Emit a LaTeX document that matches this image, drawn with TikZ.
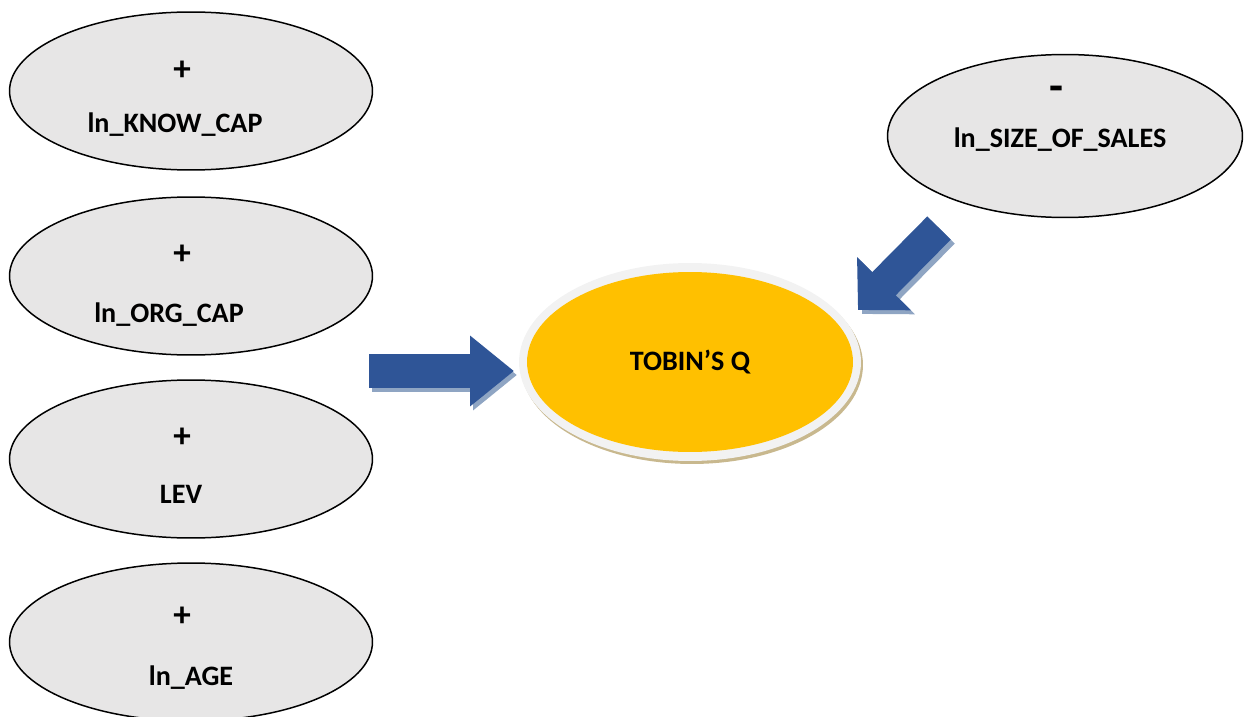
\documentclass[tikz,border=0pt]{standalone}
\usepackage{fontspec}
\setmainfont{Carlito}
\usetikzlibrary{arrows.meta,shapes.geometric}

\definecolor{varfill}{HTML}{E7E6E6}
\definecolor{arrowblue}{HTML}{2F5597}
\definecolor{arrowshade}{HTML}{8FA5C3}
\definecolor{tobinfill}{HTML}{FFC000}
\definecolor{tobinring}{HTML}{F2F2F2}
\definecolor{tobinshade}{HTML}{C8B88E}

\tikzset{
  var/.style={ellipse, draw, line width=0.85pt, fill=varfill,
    minimum width=7.26cm, minimum height=3.16cm, inner sep=0pt},
  lbl/.style={font=\fontsize{16}{19}\selectfont\bfseries, inner sep=0pt, anchor=base},
  sgn/.style={font=\fontsize{20}{22}\selectfont\bfseries, inner sep=0pt},
  harrow/.style={line width=0.68cm, -{Triangle[length=0.88cm,width=1.36cm]}},
  darrow/.style={line width=0.66cm, -{Triangle[length=0.74cm,width=1.47cm]}},
}

\begin{document}
\begin{tikzpicture}[x=0.02cm, y=-0.02cm]
    \useasboundingbox (0,0) rectangle (1246,716);

    % explanatory variables
    \node (kc) [var] at (191,91) {};
    \node (oc) [var] at (191,276) {};
    \node (lev) [var] at (191,459) {};
    \node (age) [var] at (191,642) {};
    \node (sos) [var, minimum width=7.1cm, minimum height=3.26cm] at (1065,136) {};

    \node (kcs) [sgn] at (182,71) {+};
    \node (kcl) [lbl] at (175,133) {ln\_KNOW\_CAP};
    \node (ocs) [sgn] at (182,255) {+};
    \node (ocl) [lbl] at (169,322) {ln\_ORG\_CAP};
    \node (levs) [sgn] at (182,438) {+};
    \node (levl) [lbl] at (181,503) {LEV};
    \node (ages) [sgn] at (182,617) {+};
    \node (agel) [lbl] at (191,685) {ln\_AGE};
    \node (soss) [sgn, font=\fontsize{26}{28}\selectfont\bfseries] at (1056,94) {-};
    \node (sosl) [lbl] at (1060,148) {ln\_SIZE\_OF\_SALES};

    % dependent variable
    \node (qshade) [ellipse, fill=tobinshade, minimum width=6.84cm, minimum height=3.96cm] at (692,365) {};
    \node (qring) [ellipse, fill=tobinring, minimum width=6.84cm, minimum height=3.96cm] at (690,362) {};
    \node (q) [ellipse, fill=tobinfill, inner sep=0pt, minimum width=6.52cm, minimum height=3.6cm,
      font=\fontsize{16}{19}\selectfont\bfseries] at (690,362) {TOBIN’S Q};

    % block arrows
    \coordinate (h1) at (369,371);
    \coordinate (h2) at (514,371);
    \coordinate (d1) at (939,228);
    \coordinate (d2) at (858,310);

    \draw [harrow, arrowshade] ([shift={(3,4)}]h1) -- ([shift={(3,4)}]h2);
    \draw [harrow, arrowblue] (h1) -- (h2);
    \draw [darrow, arrowshade] ([shift={(4,4)}]d1) -- ([shift={(4,4)}]d2);
    \draw [darrow, arrowblue] (d1) -- (d2);
\end{tikzpicture}
\end{document}
